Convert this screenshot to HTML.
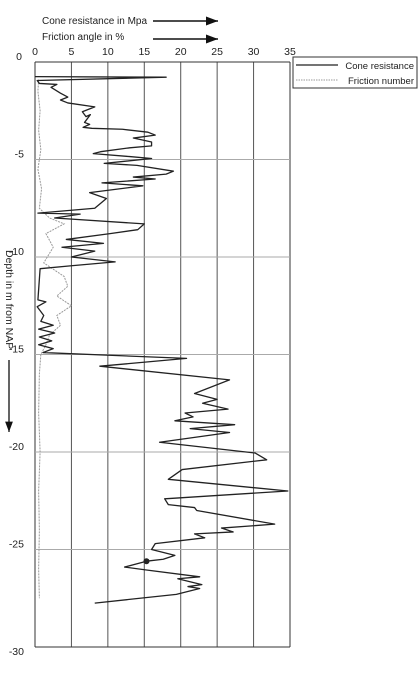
<!DOCTYPE html>
<html><head><meta charset="utf-8"><style>
body{margin:0;background:#fff;}
svg text{font-family:"Liberation Sans",sans-serif;fill:#222;}
</style></head><body>
<svg id="c" width="420" height="668" viewBox="0 0 420 668">
<defs><marker id="ah" markerWidth="8" markerHeight="6" refX="8" refY="3" orient="auto"><path d="M0,0L8,3L0,6z" fill="#111"/></marker></defs>
<g>
<text x="42" y="24" font-size="10">Cone resistance in Mpa</text>
<line x1="153" y1="21" x2="218" y2="21" stroke="#111" stroke-width="1.5" marker-end="url(#ah)"/>
<text x="42" y="40" font-size="10">Friction angle in %</text>
<line x1="153" y1="39" x2="218" y2="39" stroke="#111" stroke-width="1.5" marker-end="url(#ah)"/>
</g>
<g id="grid"></g><g id="series"></g>
<g>
<rect x="293" y="57" width="124" height="31" fill="#fff" stroke="#333" stroke-width="1"/>
<line x1="296" y1="65" x2="338" y2="65" stroke="#222" stroke-width="1.3"/>
<text x="414" y="69" font-size="9.5" text-anchor="end">Cone resistance</text>
<line x1="296" y1="80" x2="338" y2="80" stroke="#999" stroke-width="1" stroke-dasharray="1.5 1"/>
<text x="414" y="84" font-size="9.5" text-anchor="end">Friction number</text>
</g>
<g>
<text transform="translate(6,250) rotate(90)" font-size="10.5">Depth in m from NAP</text>
<line x1="9" y1="360" x2="9" y2="432" stroke="#111" stroke-width="1.3" marker-end="url(#ah)"/>
</g>
</svg>
<script>
const xTicks=[0,5,10,15,20,25,30,35];
const yTicks=[0,-5,-10,-15,-20,-25,-30];
const coneDepth=[0.75,0.78,0.95,1.1,1.15,1.3,1.6,1.8,1.95,2.1,2.3,2.55,2.8,2.7,3.1,3.2,3.35,3.4,3.45,3.6,3.75,3.9,4.1,4.3,4.4,4.6,4.7,4.85,4.95,5.2,5.3,5.6,5.75,5.9,6.0,6.2,6.35,6.7,7.0,7.5,7.75,7.8,8.0,8.3,8.6,8.8,9.1,9.3,9.5,9.7,10.0,10.25,10.45,10.6,12.2,12.3,12.55,13.0,13.3,13.5,13.7,13.9,14.1,14.3,14.5,14.7,14.9,15.2,15.6,16.3,17.0,17.3,17.5,17.8,18.0,18.2,18.4,18.6,18.8,19.0,19.5,20.05,20.4,20.9,21.4,22.0,22.4,22.7,22.85,23.0,23.7,23.9,24.1,24.2,24.4,24.7,25.0,25.3,25.5,25.6,25.9,26.05,26.4,26.5,26.8,26.9,27.0,27.3,27.75];
const coneValue=[0,18,0.3,0.6,3,2.2,3.5,4.5,3.5,4.5,8.2,6.5,7,7.6,6.8,7.5,6.6,7.8,12,15.5,16.5,13.5,16,16,13,9,8,13,16,9.5,14,19,18,13.5,16.5,9.2,14.8,7.5,9.8,8.2,0.4,6.2,2.7,15,14.1,10.3,4.3,9.4,3.7,8.2,5,11,5,0.7,0.4,1.5,0.3,1.2,0.8,2.5,0.5,2.7,0.6,2.3,0.5,2.5,1.1,20.8,8.9,26.7,21.9,25,23,26.5,20.6,21.7,19.2,27.4,21.3,26.7,17.1,30.2,31.8,20.2,18.3,34.7,17.8,18.3,21.9,22.2,32.9,25.6,27.2,21.9,23.3,16.5,16,19.2,17.6,15.3,12.3,15.3,22.6,19.6,22.9,21,22.6,19.4,8.2];
const fricDepth=[0.9,1.5,2.5,3.5,4.5,5.5,6.5,7.5,8.0,8.3,8.8,9.5,10.3,11.0,11.5,12.0,12.5,13.0,13.5,14.0,14.5,15.0,16,18,20,22,24,26,27.5];
const fricValue=[0.5,0.4,0.7,0.5,0.8,0.4,0.9,0.6,2,4,1.5,2.5,1.2,4,4.5,3,5,3,3.5,2,1.5,0.8,0.6,0.5,0.7,0.5,0.6,0.5,0.6];
const markDepth=[25.6], markValue=[15.3];
const X=v=>35+v*(255/35), Y=d=>62+d*(585/30);
const ns="http://www.w3.org/2000/svg";
const grid=document.getElementById('grid'), ser=document.getElementById('series');
function mk(tag,attrs,parent){const e=document.createElementNS(ns,tag);for(const k in attrs)e.setAttribute(k,attrs[k]);parent.appendChild(e);return e;}
xTicks.forEach(t=>{
 const l=mk('line',{x1:X(t),x2:X(t),y1:Y(0),y2:Y(30),stroke:t===0||t===35?'#333':'#555','stroke-width':1},grid);
 
 
 const tx=mk('text',{x:X(t),y:55,'font-size':10.5,'text-anchor':'middle'},grid);tx.textContent=t;
 
 
});
yTicks.forEach(t=>{
 const l=mk('line',{x1:X(0),x2:X(35),y1:Y(-t),y2:Y(-t),stroke:(t===0||t===-30)?'#333':'#aaa','stroke-width':1},grid);
 
 
 const tx=mk('text',{x:t===0?22:24,y:Y(-t)+(t===-30?8:-2),'font-size':10.5,'text-anchor':'end'},grid);tx.textContent=t;
 
 
});
const fp=mk('polyline',{points:fricDepth.map((d,i)=>X(fricValue[i])+','+Y(d)).join(' '),fill:'none',stroke:'#999','stroke-width':1,'stroke-dasharray':'2 1'},ser);


const cp=mk('polyline',{points:coneDepth.map((d,i)=>X(coneValue[i])+','+Y(d)).join(' '),fill:'none',stroke:'#222','stroke-width':1.3,'stroke-linejoin':'round'},ser);


markDepth.forEach((d,i)=>{const c=mk('circle',{cx:X(markValue[i]),cy:Y(d),r:3,fill:'#222'},ser);
 
 });
</script>
</body></html>
